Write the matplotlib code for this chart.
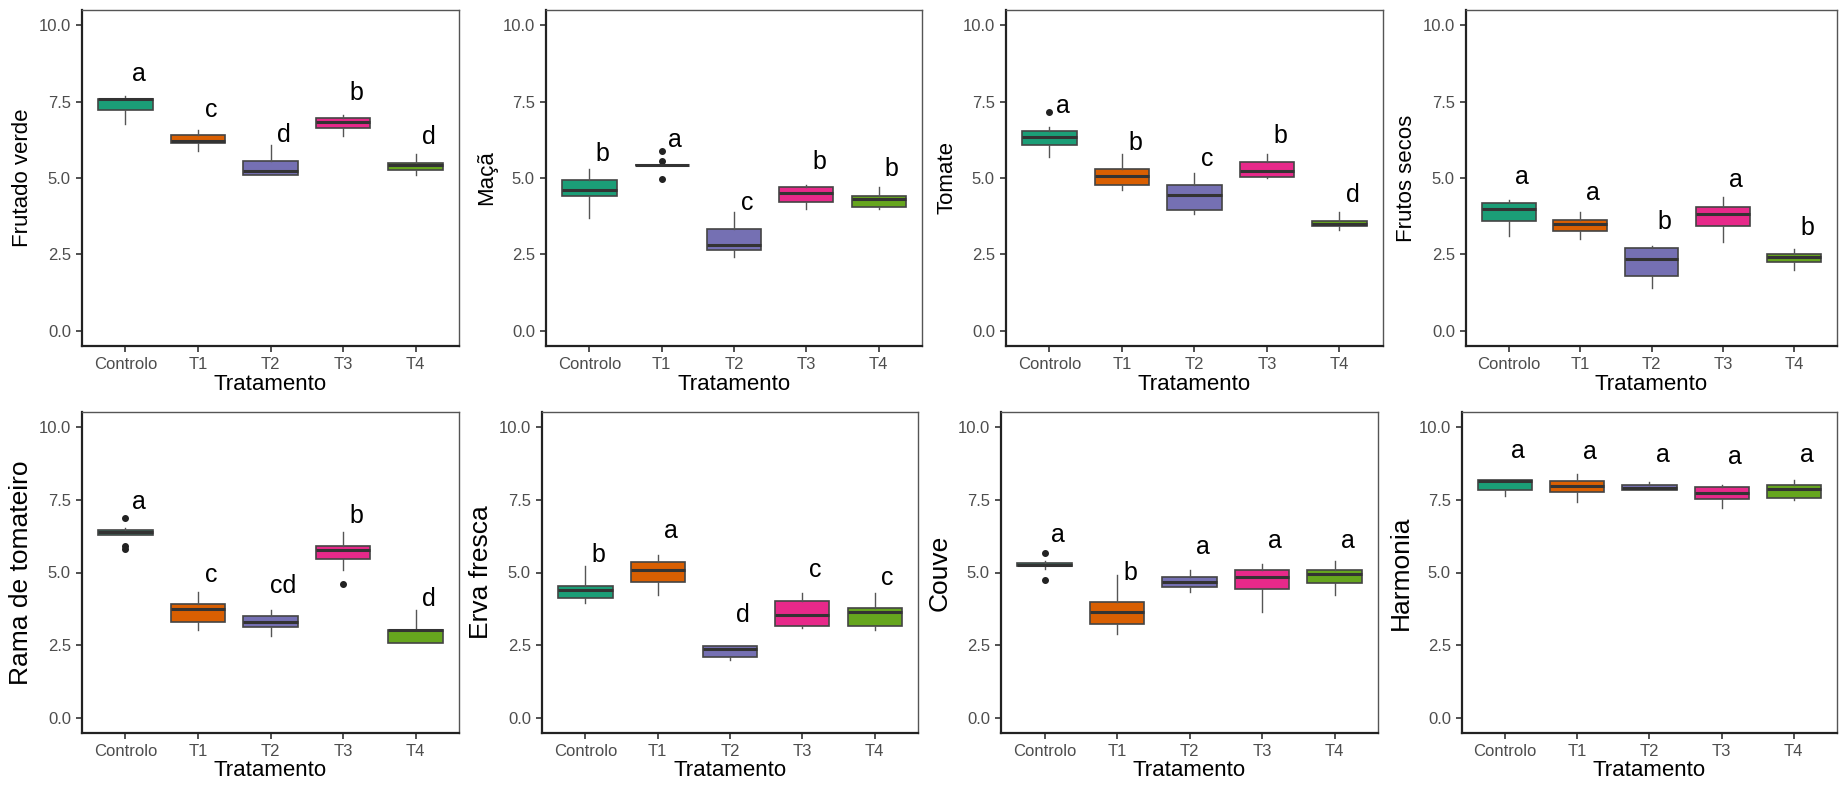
"""Boxplots of sensory attributes by treatment (2 x 4 panels)."""

import matplotlib
matplotlib.use('Agg')
import matplotlib.pyplot as plt

plt.rcParams['font.family'] = ['Liberation Sans', 'DejaVu Sans']

groups = ['Controlo', 'T1', 'T2', 'T3', 'T4']
colors = ['#1B9E77', '#D95F02', '#7570B3', '#E7298A', '#66A61E']

# box stats per group: (whisker low, Q1, median, Q3, whisker high)
frutado_verde = [(6.78, 7.23, 7.60, 7.60, 7.67), (5.89, 6.14, 6.20, 6.40, 6.58),
                 (5.10, 5.10, 5.22, 5.56, 6.09), (6.38, 6.63, 6.83, 6.96, 7.07),
                 (5.09, 5.25, 5.42, 5.49, 5.78)]
frutado_verde_out = [[], [], [], [], []]
frutado_verde_letters = ['a', 'c', 'd', 'b', 'd']
frutado_verde_letter_y = [8.18, 7.01, 6.18, 7.56, 6.10]

maca = [(3.70, 4.41, 4.60, 4.93, 5.29), (5.41, 5.41, 5.41, 5.41, 5.41),
        (2.41, 2.64, 2.82, 3.33, 3.89), (3.97, 4.23, 4.50, 4.69, 4.78),
        (3.99, 4.06, 4.30, 4.41, 4.71)]
maca_out = [[], [5.88, 5.56, 4.96], [], [], []]
maca_letters = ['b', 'a', 'c', 'b', 'b']
maca_letter_y = [5.56, 6.03, 3.95, 5.31, 5.05]

tomate = [(5.69, 6.07, 6.35, 6.53, 6.68), (4.60, 4.77, 5.07, 5.28, 5.77),
          (3.82, 3.95, 4.43, 4.77, 5.18), (4.99, 5.04, 5.23, 5.52, 5.77),
          (3.29, 3.42, 3.51, 3.60, 3.89)]
tomate_out = [[7.16], [], [], [], []]
tomate_letters = ['a', 'b', 'c', 'b', 'd']
tomate_letter_y = [7.14, 5.92, 5.38, 6.16, 4.23]

frutos_secos = [(3.11, 3.58, 3.98, 4.18, 4.27), (3.00, 3.26, 3.49, 3.64, 3.89),
                (1.40, 1.80, 2.34, 2.70, 2.76), (2.90, 3.42, 3.81, 4.06, 4.38),
                (2.00, 2.25, 2.40, 2.51, 2.67)]
frutos_secos_out = [[], [], [], [], []]
frutos_secos_letters = ['a', 'a', 'b', 'a', 'b']
frutos_secos_letter_y = [4.80, 4.29, 3.33, 4.69, 3.13]

rama = [(6.30, 6.30, 6.38, 6.46, 6.51), (3.04, 3.30, 3.74, 3.92, 4.32),
        (2.81, 3.12, 3.32, 3.52, 3.70), (5.09, 5.45, 5.78, 5.92, 6.40),
        (2.57, 2.57, 3.04, 3.04, 3.70)]
rama_out = [[6.88, 5.92, 5.80], [], [], [4.60], []]
rama_letters = ['a', 'c', 'cd', 'b', 'd']
rama_letter_y = [7.18, 4.67, 4.29, 6.71, 3.84]

erva_fresca = [(3.95, 4.11, 4.41, 4.55, 5.21), (4.24, 4.68, 5.09, 5.37, 5.59),
               (2.00, 2.09, 2.37, 2.48, 2.48), (3.09, 3.16, 3.55, 4.03, 4.30),
               (3.04, 3.16, 3.63, 3.77, 4.30)]
erva_fresca_out = [[], [], [], [], []]
erva_fresca_letters = ['b', 'a', 'd', 'c', 'c']
erva_fresca_letter_y = [5.35, 6.18, 3.29, 4.83, 4.58]

couve = [(5.13, 5.21, 5.27, 5.32, 5.39), (2.89, 3.25, 3.64, 4.00, 4.92),
         (4.33, 4.50, 4.69, 4.85, 5.08), (3.63, 4.45, 4.86, 5.07, 5.30),
         (4.22, 4.63, 4.94, 5.07, 5.38)]
couve_out = [[5.67, 4.76], [], [], [], []]
couve_letters = ['a', 'b', 'a', 'a', 'a']
couve_letter_y = [6.06, 4.75, 5.63, 5.84, 5.84]

harmonia = [(7.63, 7.82, 8.12, 8.17, 8.17), (7.41, 7.77, 7.98, 8.14, 8.36),
            (7.82, 7.82, 7.90, 8.00, 8.09), (7.20, 7.51, 7.72, 7.92, 8.00),
            (7.50, 7.56, 7.85, 7.99, 8.17)]
harmonia_out = [[], [], [], [], []]
harmonia_letters = ['a', 'a', 'a', 'a', 'a']
harmonia_letter_y = [8.94, 8.88, 8.78, 8.71, 8.78]


def plot_panel(ax, stats, outliers, letters, letter_y, ylabel, ylabel_size):
    boxes = []
    for (lo, q1, med, q3, hi), out in zip(stats, outliers):
        boxes.append(dict(whislo=lo, q1=q1, med=med, q3=q3, whishi=hi,
                          fliers=out))
    pos = list(range(1, len(groups) + 1))
    bp = ax.bxp(boxes, positions=pos, widths=0.75, patch_artist=True,
                showcaps=False,
                boxprops=dict(edgecolor='#444444', linewidth=1.2),
                medianprops=dict(color='#333333', linewidth=2.2),
                whiskerprops=dict(color='#555555', linewidth=1.0),
                flierprops=dict(marker='o', markerfacecolor='#222222',
                                markeredgecolor='#222222', markersize=4))
    for patch, c in zip(bp['boxes'], colors):
        patch.set_facecolor(c)
    for x, lab, y in zip(pos, letters, letter_y):
        ax.text(x + 0.18, y, lab, fontsize=18, ha='center', va='baseline',
                color='black')
    ax.set_xlim(0.4, 5.6)
    ax.set_ylim(-0.5, 10.5)
    ax.set_yticks([0, 2.5, 5, 7.5, 10])
    ax.set_yticklabels(['0.0', '2.5', '5.0', '7.5', '10.0'])
    ax.set_xticks(pos)
    ax.set_xticklabels(groups)
    ax.tick_params(labelsize=12, labelcolor='#4D4D4D', color='#333333',
                   length=4.5, width=1.2)
    ax.set_xlabel('Tratamento', fontsize=16, labelpad=1)
    ax.set_ylabel(ylabel, fontsize=ylabel_size, labelpad=4)
    for side in ['left', 'bottom']:
        ax.spines[side].set_color('#222222')
        ax.spines[side].set_linewidth(1.6)
    for side in ['top', 'right']:
        ax.spines[side].set_color('#555555')
        ax.spines[side].set_linewidth(1.0)


def main():
    W, H = 1840, 800
    fig = plt.figure(figsize=(W / 100, H / 100), dpi=100)
    top = [(82, 459), (546, 922), (1006, 1383), (1466, 1837)]
    bottom = [(82, 459), (542, 918), (1001, 1378), (1462, 1837)]
    panels_top = [
        (frutado_verde, frutado_verde_out, frutado_verde_letters,
         frutado_verde_letter_y, 'Frutado verde'),
        (maca, maca_out, maca_letters, maca_letter_y, 'Maçã'),
        (tomate, tomate_out, tomate_letters, tomate_letter_y, 'Tomate'),
        (frutos_secos, frutos_secos_out, frutos_secos_letters,
         frutos_secos_letter_y, 'Frutos secos'),
    ]
    panels_bottom = [
        (rama, rama_out, rama_letters, rama_letter_y, 'Rama de tomateiro'),
        (erva_fresca, erva_fresca_out, erva_fresca_letters,
         erva_fresca_letter_y, 'Erva fresca'),
        (couve, couve_out, couve_letters, couve_letter_y, 'Couve'),
        (harmonia, harmonia_out, harmonia_letters, harmonia_letter_y,
         'Harmonia'),
    ]
    for (x0, x1), p in zip(top, panels_top):
        ax = fig.add_axes([x0 / W, (H - 346) / H, (x1 - x0) / W, 336 / H])
        plot_panel(ax, *p, ylabel_size=16)
    for (x0, x1), p in zip(bottom, panels_bottom):
        ax = fig.add_axes([x0 / W, (H - 733) / H, (x1 - x0) / W, 321 / H])
        plot_panel(ax, *p, ylabel_size=19)
    fig.savefig('out.png', dpi=100)


if __name__ == '__main__':
    main()
